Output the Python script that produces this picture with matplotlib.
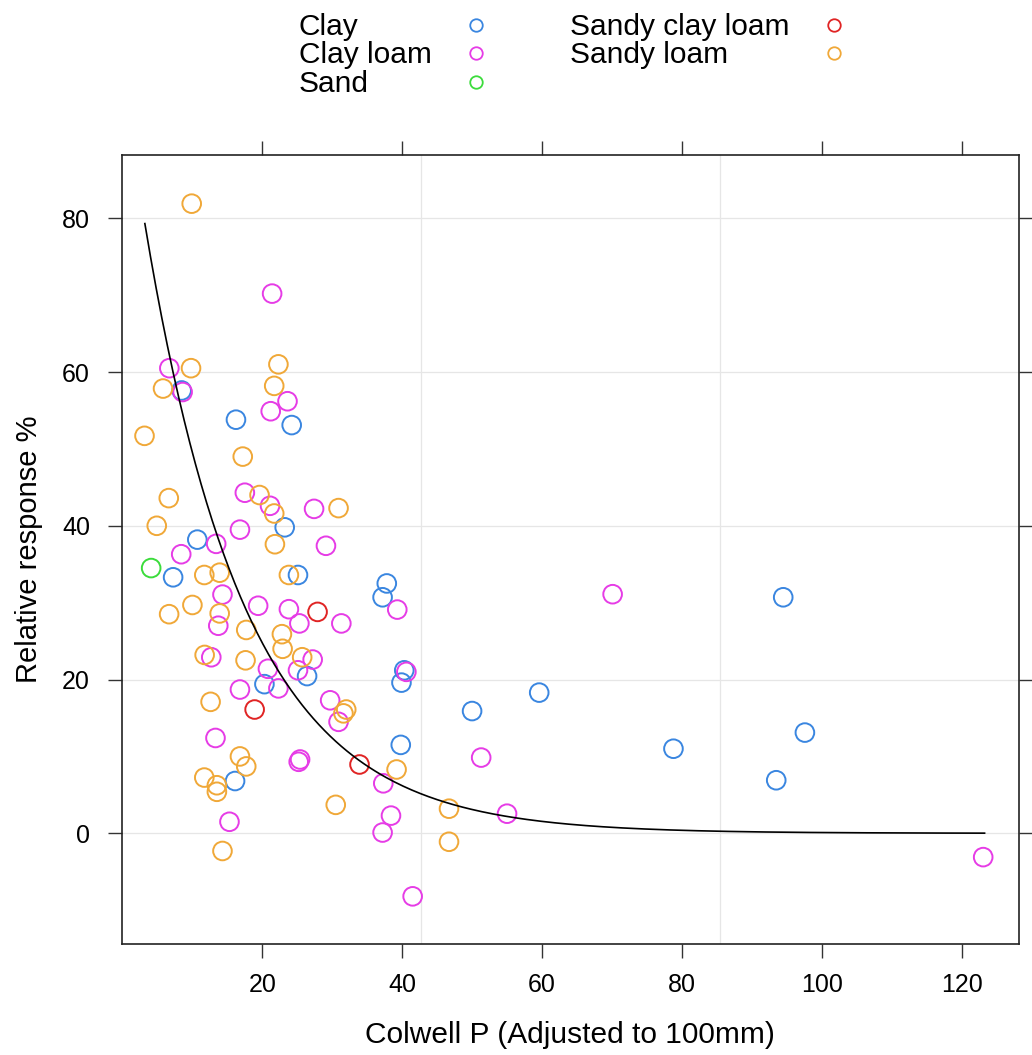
import numpy as np
import matplotlib.pyplot as plt
from matplotlib.lines import Line2D

plt.rcParams['font.family'] = ['Liberation Sans', 'DejaVu Sans']

# soil texture groups
clay_x = [8.46, 16.23, 24.2, 23.2, 10.7, 7.24, 25.1, 37.8, 37.2, 40.3, 39.9, 26.4, 20.3, 39.8, 16.1,
          94.5, 59.6, 50.0, 78.8, 97.6, 93.5]
clay_y = [57.6, 53.8, 53.1, 39.8, 38.2, 33.3, 33.6, 32.5, 30.7, 21.2, 19.6, 20.45, 19.4, 11.5, 6.8,
          30.7, 18.3, 15.9, 11.0, 13.1, 6.9]

clayloam_x = [21.4, 6.7, 8.6, 23.6, 21.2, 17.5, 21.1, 27.4, 16.8, 13.4, 29.1, 8.4, 39.3, 14.3, 19.4,
              23.8, 25.3, 31.3, 13.7, 12.7, 20.8, 27.2, 25.1, 22.3, 16.8, 40.6, 29.7, 30.9, 13.3, 25.4,
              25.2, 37.3, 51.3, 38.4, 55.0, 15.3, 37.2, 41.5, 70.1, 123.1]
clayloam_y = [70.2, 60.5, 57.4, 56.2, 54.9, 44.3, 42.6, 42.2, 39.5, 37.65, 37.4, 36.3, 29.1, 31.05, 29.6,
              29.15, 27.3, 27.3, 27.0, 22.9, 21.4, 22.6, 21.2, 18.85, 18.7, 21.0, 17.3, 14.5, 12.4, 9.6,
              9.3, 6.5, 9.85, 2.3, 2.55, 1.5, 0.1, -8.2, 31.1, -3.1]

sand_x = [4.1]
sand_y = [34.5]

sandyclayloam_x = [27.9, 18.9, 33.9]
sandyclayloam_y = [28.8, 16.1, 8.95]

sandyloam_x = [9.9, 9.8, 5.8, 22.3, 21.7, 3.15, 17.2, 6.62, 19.6, 21.7, 30.9, 4.9, 21.8, 11.7, 13.9,
               23.8, 6.67, 10.0, 13.9, 17.7, 22.8, 22.9, 11.75, 17.6, 25.7, 12.6, 32.0, 31.6, 16.8, 17.7,
               11.7, 13.5, 13.5, 39.2, 30.5, 46.7, 46.7, 14.3]
sandyloam_y = [81.9, 60.5, 57.85, 61.0, 58.2, 51.7, 49.0, 43.6, 44.0, 41.6, 42.3, 40.0, 37.6, 33.6, 33.9,
               33.6, 28.5, 29.7, 28.6, 26.45, 25.9, 24.0, 23.2, 22.5, 22.9, 17.1, 16.1, 15.6, 10.0, 8.7,
               7.25, 6.25, 5.4, 8.3, 3.7, 3.2, -1.1, -2.3]

groups = ['Clay', 'Clay loam', 'Sand', 'Sandy clay loam', 'Sandy loam']
colors = ['#3a86e0', '#e63ce6', '#3cdc3c', '#e02424', '#f0a838']
xs = [clay_x, clayloam_x, sand_x, sandyclayloam_x, sandyloam_x]
ys = [clay_y, clayloam_y, sand_y, sandyclayloam_y, sandyloam_y]

# fitted exponential decay y = a * exp(-b * x)
fit_a = 99.0
fit_b = 0.0693
fit_xmin, fit_xmax = 3.2, 123.3

fig = plt.figure(figsize=(10.32, 10.55), dpi=100)
W, H = 1032, 1055
ax = fig.add_axes([122.0 / W, 1 - 944.0 / H, (1018.5 - 122.0) / W, (944.0 - 155) / H])

xlim = (-0.07, 128.15)
ax.set_xlim(xlim)
ax.set_ylim(-14.4, 88.23)

# grid: horizontal at ticks, vertical at thirds of the panel
yticks = [0, 20, 40, 60, 80]
for yv in yticks:
    ax.axhline(yv, color='#e6e6e6', lw=0.9, zorder=0)
for f in (1 / 3, 2 / 3):
    ax.axvline(xlim[0] + f * (xlim[1] - xlim[0]), color='#e6e6e6', lw=0.9, zorder=0)

for x, y, c in zip(xs, ys, colors):
    ax.scatter(x, y, s=180, facecolors='none', edgecolors=c, linewidths=1.4, zorder=3)

cx = np.linspace(fit_xmin, fit_xmax, 300)
ax.plot(cx, fit_a * np.exp(-fit_b * cx), color='black', lw=1.2, zorder=4)

ax.set_xticks([20, 40, 60, 80, 100, 120])
ax.set_yticks(yticks)
ax.tick_params(axis='both', which='both', direction='out', length=10, width=1.0,
               top=True, right=True, labelsize=18, color='#333333')
ax.tick_params(axis='x', pad=11)
ax.tick_params(axis='y', pad=13)
for sp in ax.spines.values():
    sp.set_linewidth(1.2)
    sp.set_color('#222222')

ax.set_xlabel('Colwell P (Adjusted to 100mm)', fontsize=21.5, labelpad=17)
ax.set_ylabel('Relative response %', fontsize=21, labelpad=14)

# key at the top: text then marker, two columns
text_x = [299, 299, 299, 570, 570]
mark_x = [476, 476, 476, 834, 834]
row_y = [25, 53, 82, 25, 53]
for lab, c, tx, mx, ry in zip(groups, colors, text_x, mark_x, row_y):
    fig.text(tx / W, 1 - (ry + 10) / H, lab, fontsize=21.5, ha='left', va='baseline')
    fig.add_artist(Line2D([mx / W], [1 - ry / H], transform=fig.transFigure, marker='o',
                          markersize=9, markerfacecolor='none', markeredgecolor=c,
                          markeredgewidth=1.3, linestyle='none'))

plt.savefig('out.png', dpi=100)
